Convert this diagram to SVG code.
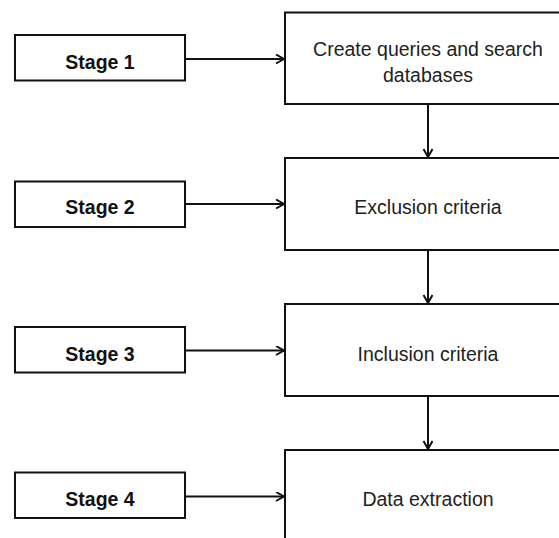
<svg xmlns="http://www.w3.org/2000/svg" width="559" height="538" viewBox="0 0 559 538">
<defs>
<style>
.box{fill:#fff;stroke:#111;stroke-width:2}
.stage{font-family:"Liberation Sans",Arial,sans-serif;font-weight:bold;font-size:19.5px;fill:#111;text-anchor:middle}
.lbl{font-family:"Liberation Sans",Arial,sans-serif;font-size:19.5px;fill:#222;text-anchor:middle}
.conn line{stroke:#111;stroke-width:2;fill:none;marker-end:url(#arr)}
</style>
<marker id="arr" markerUnits="userSpaceOnUse" markerWidth="12" markerHeight="12" refX="9" refY="5" orient="auto" viewBox="0 0 12 12">
<path d="M1,0.5 L9,5 L1,9.5" fill="none" stroke="#111" stroke-width="2"/>
</marker>
</defs>
<rect width="559" height="538" fill="#fff"/>
<g id="stage1"><rect class="box" x="15" y="35" width="170" height="45.5"/><text class="stage" x="100" y="69">Stage 1</text></g>
<g id="stage2"><rect class="box" x="15" y="181.5" width="170" height="45.5"/><text class="stage" x="100" y="214">Stage 2</text></g>
<g id="stage3"><rect class="box" x="15" y="327" width="170" height="45.5"/><text class="stage" x="100" y="361">Stage 3</text></g>
<g id="stage4"><rect class="box" x="15" y="472.5" width="170" height="45.5"/><text class="stage" x="100" y="506">Stage 4</text></g>
<g id="step1"><rect class="box" x="285" y="12.5" width="300" height="91.5"/><text class="lbl" x="428" y="56">Create queries and search</text><text class="lbl" x="428" y="82">databases</text></g>
<g id="step2"><rect class="box" x="285" y="158" width="300" height="92"/><text class="lbl" x="428" y="214">Exclusion criteria</text></g>
<g id="step3"><rect class="box" x="285" y="304" width="300" height="92"/><text class="lbl" x="428" y="361">Inclusion criteria</text></g>
<g id="step4"><rect class="box" x="285" y="450" width="300" height="100"/><text class="lbl" x="428" y="506">Data extraction</text></g>
<g class="conn">
<line x1="186" y1="59" x2="284" y2="59"/>
<line x1="186" y1="204" x2="284" y2="204"/>
<line x1="186" y1="350.5" x2="284" y2="350.5"/>
<line x1="186" y1="496.5" x2="284" y2="496.5"/>
<line x1="428" y1="105" x2="428" y2="157"/>
<line x1="428" y1="251" x2="428" y2="303"/>
<line x1="428" y1="397" x2="428" y2="449"/>
</g>
</svg>
